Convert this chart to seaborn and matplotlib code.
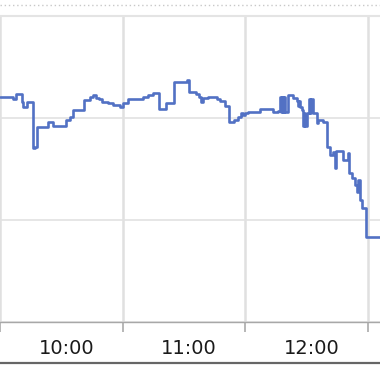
import matplotlib
matplotlib.use("Agg")
import matplotlib.pyplot as plt
import pandas as pd
import seaborn as sns
from matplotlib.lines import Line2D
from matplotlib.transforms import ScaledTranslation

# minutes after 9:30 and price level (step series)
minutes = [0, 6.4, 7.8, 10.8, 11.5, 13.2, 16.2, 17.1, 17.9, 23.5, 26.0, 32.3, 34.3, 35.8,
           41.1, 44.1, 45.6, 47.0, 48.5, 50.0, 52.9, 55.3, 58.8, 60.2, 62.7, 70.0, 72.5,
           74.9, 77.9, 81.3, 85.2, 91.6, 92.6, 96.0, 97.5, 98.4, 99.4, 101.9, 106.3, 107.8,
           110.2, 112.2, 114.6, 116.6, 118.0, 119.0, 120.0, 121.5, 127.3, 133.7, 136.2,
           137.1, 137.6, 138.1, 138.6, 139.1, 139.6, 141.1, 143.5, 145.5, 146.0, 146.4,
           146.9, 147.9, 148.4, 148.9, 149.4, 150.4, 151.3, 151.8, 152.3, 153.3, 155.3,
           155.8, 158.2, 160.2, 161.6, 163.1, 164.1, 164.6, 168.0, 170.4, 170.9, 172.4,
           173.9, 174.9, 175.3, 176.3, 177.3, 179.3, 186.1]
price = [12.209, 12.183, 12.235, 12.160, 12.111, 12.154, 11.703, 11.719, 11.915, 11.958,
         11.925, 11.980, 12.013, 12.078, 12.176, 12.206, 12.225, 12.196, 12.186, 12.157,
         12.147, 12.127, 12.111, 12.147, 12.191, 12.206, 12.225, 12.245, 12.088, 12.147,
         12.353, 12.377, 12.255, 12.235, 12.206, 12.157, 12.196, 12.206, 12.191, 12.167,
         12.118, 11.961, 11.980, 12.010, 12.049, 12.029, 12.049, 12.059, 12.088, 12.059,
         12.069, 12.206, 12.059, 12.206, 12.059, 12.206, 12.059, 12.225, 12.196, 12.167,
         12.118, 12.167, 12.108, 12.078, 11.922, 12.049, 11.922, 12.049, 12.186, 12.049,
         12.186, 12.049, 11.951, 11.980, 11.961, 11.716, 11.637, 11.667, 11.510, 11.676,
         11.588, 11.657, 11.461, 11.412, 11.343, 11.275, 11.392, 11.196, 11.118, 10.833,
         10.833]

grid_minutes = [0, 60, 120, 180]
label_minutes = [30, 90, 150]
tick_labels = ["10:00", "11:00", "12:00"]
price_grid = [10, 11, 12, 13]

sns.set_theme(style="white")
plt.rcParams["font.family"] = ["DejaVu Sans"]

fig = plt.figure(figsize=(3.8, 3.72), dpi=100)
ax = fig.add_axes([0, 50 / 372, 1, 306 / 372])

df = pd.DataFrame({"minute": minutes, "price": price})
sns.lineplot(data=df, x="minute", y="price", ax=ax, drawstyle="steps-post",
             color="#5271c4", linewidth=1.9)

ax.set_xlim(0, 186.1)
ax.set_ylim(10, 13)
ax.set_xlabel("")
ax.set_ylabel("")

ax.set_xticks(grid_minutes)
ax.set_xticklabels([""] * len(grid_minutes))
ax.set_xticks(label_minutes, minor=True)
ax.set_xticklabels(tick_labels, minor=True)
ax.tick_params(axis="x", which="major", bottom=True, length=7.2, width=1.2, color="#aaaaaa")
ax.tick_params(axis="x", which="minor", bottom=True, length=0, labelsize=14,
               labelcolor="#1a1a1a", pad=12)
ax.set_yticks(price_grid)
ax.tick_params(axis="y", length=0, labelleft=False)

ax.grid(True, axis="y", color="#e2e2e2", linewidth=1.2)
ax.grid(True, axis="x", which="major", color="#e0e0e0", linewidth=1.8)

for side in ["left", "right"]:
    ax.spines[side].set_visible(False)
ax.spines["top"].set_color("#e4e4e4")
ax.spines["top"].set_linewidth(1.5)
ax.spines["bottom"].set_color("#a8a8a8")
ax.spines["bottom"].set_linewidth(1.0)

shift = ScaledTranslation(0.05, 0, fig.dpi_scale_trans)
for lbl in ax.get_xticklabels(minor=True):
    lbl.set_transform(lbl.get_transform() + shift)

fig.add_artist(Line2D([0, 1], [1 - 5 / 372] * 2, transform=fig.transFigure,
                      color="#c8c8c8", linewidth=1.0, linestyle=(0, (1, 2))))
fig.add_artist(Line2D([0, 1], [1 - 363 / 372] * 2, transform=fig.transFigure,
                      color="#666666", linewidth=1.6))

fig.savefig("out.png", dpi=100)
